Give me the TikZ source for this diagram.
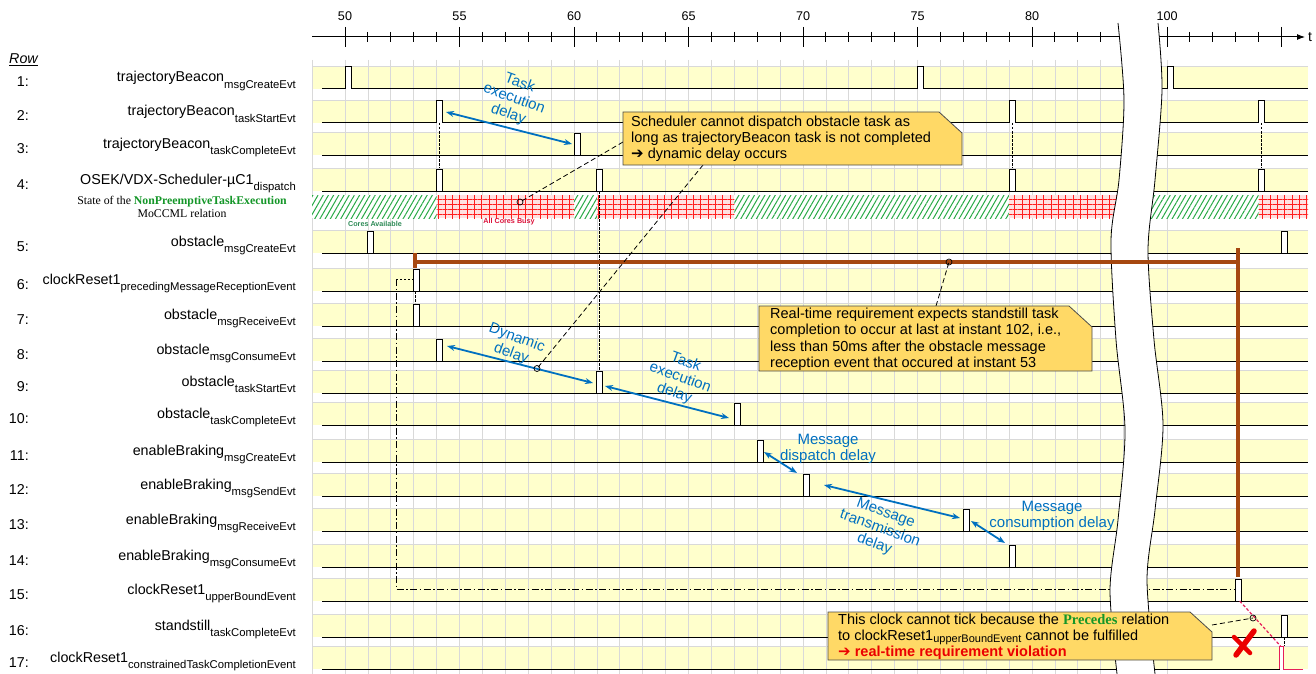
\documentclass[tikz,border=0pt]{standalone}
\usepackage{fontspec}
\setmainfont{Liberation Sans}
\newfontfamily\serifs{Liberation Serif}
\newfontfamily\dejavu{DejaVu Sans}
\usetikzlibrary{arrows.meta,patterns.meta}
\definecolor{band}{RGB}{255,255,204}
\definecolor{gridc}{RGB}{217,217,217}
\definecolor{bl}{RGB}{0,112,192}
\definecolor{brn}{RGB}{166,72,16}
\definecolor{note}{RGB}{255,217,102}
\definecolor{ngreen}{RGB}{20,150,40}
\definecolor{cgreen}{RGB}{46,139,87}
\definecolor{crim}{RGB}{220,20,60}
\definecolor{hatchg}{RGB}{40,170,70}
\definecolor{pinkbg}{RGB}{255,225,225}
\definecolor{gridred}{RGB}{255,30,30}
\definecolor{vred}{RGB}{235,0,0}
\definecolor{pinkred}{RGB}{230,30,90}
\newcommand\subt[1]{\raisebox{-6.5pt}{\fontsize{11.3}{12}\selectfont #1}}
\newcommand\pulse[3][]{%
  \fill[white] ({tx(#3)},#2) rectangle ({tx(#3)+6},#2-22);
  \draw[sig,#1] ({tx(#3)},#2) -- ({tx(#3)},#2-22) -- ({tx(#3)+6},#2-22) -- ({tx(#3)+6},#2);}
\begin{document}
\begin{tikzpicture}[x=1pt,y=-1pt,
  declare function={tx(\t)=(\t<90)*(345+(\t-50)*22.9)+(\t>=90)*(1167+(\t-100)*22.9);},
  sig/.style={line width=1pt,black},
  gridl/.style={draw=gridc,line width=0.8pt},
  rownum/.style={anchor=base east,inner sep=0,font=\fontsize{14.3}{16}\selectfont},
  rowlbl/.style={anchor=base east,inner sep=0,font=\fontsize{14.3}{16}\selectfont},
  ticklbl/.style={anchor=base,inner sep=0,font=\fontsize{12.6}{14}\selectfont},
  barrow/.style={draw=bl,line width=1.8pt,{Stealth[length=8pt,width=6pt]}-{Stealth[length=8pt,width=6pt]}},
  blabel/.style={text=bl,align=center,inner sep=0,font=\fontsize{15}{16.5}\selectfont},
  notebox/.style={fill=note,draw=black!70,line width=0.8pt},
  notetext/.style={anchor=north west,align=left,inner sep=0,font=\fontsize{14.5}{16}\selectfont},
  conn/.style={draw=black,line width=0.8pt,dash pattern=on 5pt off 3pt},
  vdash/.style={draw=black,line width=0.8pt,dash pattern=on 2.5pt off 1.5pt},
  ring/.style={draw=black,line width=0.7pt},
  dashdotl/.style={draw=black,line width=0.9pt,dash pattern=on 7pt off 2.5pt on 1.5pt off 2.5pt},
  brline/.style={draw=brn,line width=4pt},
  greenfill/.style={pattern={Lines[angle=60,distance=4.5pt,line width=1pt]},pattern color=hatchg},
  redh/.style={pattern={Lines[angle=0,distance=5pt,line width=0.9pt]},pattern color=gridred},
  redv/.style={pattern={Lines[angle=90,distance=7.3pt,line width=0.9pt]},pattern color=gridred}
]
\useasboundingbox (0,0) rectangle (1316,674);
\fill[white] (0,0) rectangle (1316,674);
% bands
\foreach \y in {89,123,155,191,253,291,326,361,393,425,462,496,531,567,601,637,669}
  {\fill[band] (312,\y-23) rectangle (1308,\y);}
% grid
\foreach \t in {50,...,84,100,...,106}
  {\draw[gridl] ({tx(\t)},60) -- ({tx(\t)},674);}
\draw[gridl] (312.5,60) -- (312.5,674);
\foreach \y in {89,123,155,191,253,291,326,361,393,425,462,496,531,567,601,637,669}
  {\draw[gridl] (312,\y-23) -- (1308,\y-23);}
% state row
\foreach \a/\b in {312/436.6,574/596.9,734.3/1009,1140/1258.6}
  {\fill[white] (\a,195) rectangle (\b,218);
   \fill[greenfill] (\a,195) rectangle (\b,218);}
\foreach \a/\b in {436.6/574,596.9/734.3,1009/1135,1258.6/1308}
  {\fill[pinkbg] (\a,195) rectangle (\b,218);
   \fill[redh] (\a,195) rectangle (\b,218);
   \fill[redv] (\a,195) rectangle (\b,218);}
\node[font=\bfseries\fontsize{7.2}{8}\selectfont,text=cgreen,inner sep=0] (cav) at (375,224) {Cores Available};
\node[font=\bfseries\fontsize{7.2}{8}\selectfont,text=crim,inner sep=0] (acb) at (509,222) {All Cores Busy};
% baselines
\foreach \y in {89,123,155,191,253,291,326,361,393,425,462,496,531,567,601,637}
  {\draw[sig] (322,\y) -- (1308,\y);}
\draw[sig] (322,669) -- ({tx(105)-2},669);
% pulses
\foreach \y/\t in {89/50,89/75,89/100,123/54,123/79,123/104,155/60,191/54,191/61,191/79,191/104,
  253/51,253/105,291/53,326/53,361/54,393/61,425/67,462/68,496/70,531/77,567/79,601/103,637/105}
  {\pulse{\y}{\t}}
\fill[white] ({tx(105)-2},669) rectangle ({tx(105)+2},646);
\draw[draw=pinkred,line width=1pt] ({tx(105)-2},669) -- ({tx(105)-2},646) -- ({tx(105)+2},646) -- ({tx(105)+2},669) -- (1303,669);
% dashed verticals
\draw[vdash] ({tx(54)+3},123) -- ({tx(54)+3},168);
\draw[vdash] ({tx(79)+3},123) -- ({tx(79)+3},168);
\draw[vdash] ({tx(104)+3},123) -- ({tx(104)+3},168);
\draw[vdash] ({tx(61)+2},191) -- ({tx(61)+2},371);
\draw[vdash] ({tx(53)+2},291) -- ({tx(53)+2},303);
\draw[vdash] ({tx(105)+3},637) -- ({tx(105)+3},646);
% dash-dot path
\coordinate (dd1) at (396,279);
\coordinate (dd2) at (396,589);
\coordinate (p6) at ({tx(53)},279);
\coordinate (p15) at ({tx(103)},589);
\draw[line width=0.9pt,dash pattern=on 2pt off 2pt] (dd1) -- (p6);
\draw[dashdotl] (dd1) -- (dd2) -- (p15);
% axis
\draw[line width=1pt] (312,37) -- (1296,37);
\draw[line width=1pt,-{Latex[length=8pt,width=6pt]}] (1290,37) -- (1305,37);
\node[font=\fontsize{14}{16}\selectfont,inner sep=0] (tlab) at (1310,37) {t};
\foreach \t in {50,55,...,80,100,105} {\draw[line width=1pt] ({tx(\t)},27) -- ({tx(\t)},47);}
\foreach \t in {51,52,53,54,56,57,58,59,61,62,63,64,66,67,68,69,71,72,73,74,76,77,78,79,81,82,83,101,102,103,104}
  {\draw[line width=0.9pt] ({tx(\t)},32) -- ({tx(\t)},42);}
\foreach \t in {50,55,...,80,100} {\node[ticklbl] at ({tx(\t)},21) {\t};}
% break
\fill[white] plot[smooth] coordinates {(1118,23) (1124,100) (1119,180) (1111,240) (1116,340) (1125,430) (1118,520) (1110,590) (1117,674)}
  -- plot[smooth] coordinates {(1155,674) (1147,580) (1155,510) (1163,425) (1154,340) (1148,250) (1155,180) (1162,90) (1158,23)} -- cycle;
\draw[line width=0.8pt] plot[smooth] coordinates {(1118,23) (1124,100) (1119,180) (1111,240) (1116,340) (1125,430) (1118,520) (1110,590) (1117,674)};
\draw[line width=0.8pt] plot[smooth] coordinates {(1158,23) (1162,90) (1155,180) (1148,250) (1154,340) (1163,425) (1155,510) (1147,580) (1155,674)};
% brown requirement lines
\coordinate (b1) at (415,253);
\coordinate (b2) at (415,268);
\coordinate (b3) at (413,262);
\coordinate (b4) at (1239,262);
\coordinate (b5) at (1237.5,248);
\coordinate (b6) at (1237.5,577);
\draw[brline] (b3) -- (b4);
\draw[brline] (b1) -- (b2);
\draw[brline] (b5) -- (b6);
% rings
\coordinate (r1) at (520,202);
\coordinate (r2) at (537,368.5);
\coordinate (r3) at (949,262);
\coordinate (r4) at (1253,618);
% red dashed
\coordinate (rd1) at ({tx(103)+4},601);
\coordinate (rd2) at ({tx(105)-1},646);
\draw[draw=pinkred,line width=1.2pt,dash pattern=on 3pt off 2pt] (rd1) -- (rd2);
% blue arrows
\coordinate (a1s) at (446,112); \coordinate (a1e) at (572,144);
\coordinate (a2s) at (447,346); \coordinate (a2e) at (593,383);
\coordinate (a3s) at (605,386); \coordinate (a3e) at (729,418);
\coordinate (a4s) at (764,452); \coordinate (a4e) at (797,473);
\coordinate (a5s) at (824,485); \coordinate (a5e) at (960,518);
\coordinate (a6s) at (971,521); \coordinate (a6e) at (1005,543);
\draw[barrow] (a1s) -- (a1e);
\draw[barrow] (a2s) -- (a2e);
\draw[barrow] (a3s) -- (a3e);
\draw[barrow] (a4s) -- (a4e);
\draw[barrow] (a5s) -- (a5e);
\draw[barrow] (a6s) -- (a6e);
\node[blabel,rotate=-20] (bl1) at (514,99) {Task\\execution\\delay};
\node[blabel,rotate=-20] (bl2) at (514,346) {Dynamic\\delay};
\node[blabel,rotate=-20] (bl3) at (680,378) {Task\\execution\\delay};
\node[blabel] (bl4) at (828,449) {Message\\dispatch delay};
\node[blabel,rotate=-20] (bl5) at (880,529) {Message\\transmission\\delay};
\node[blabel] (bl6) at (1052,516) {Message\\consumption delay};
% row labels
\node[anchor=base west,inner sep=0,font=\itshape\fontsize{14.3}{16}\selectfont] (rowh) at (9,64) {\underline{Row}};
\foreach \n/\y/\m/\s in {1/89/trajectoryBeacon/msgCreateEvt,2/123/trajectoryBeacon/taskStartEvt,
  3/155/trajectoryBeacon/taskCompleteEvt,5/253/obstacle/msgCreateEvt,
  6/291/clockReset1/precedingMessageReceptionEvent,7/326/obstacle/msgReceiveEvt,
  8/361/obstacle/msgConsumeEvt,9/393/obstacle/taskStartEvt,10/425/obstacle/taskCompleteEvt,
  11/462/enableBraking/msgCreateEvt,12/496/enableBraking/msgSendEvt,13/531/enableBraking/msgReceiveEvt,
  14/567/enableBraking/msgConsumeEvt,15/601/clockReset1/upperBoundEvent,16/637/standstill/taskCompleteEvt,
  17/669/clockReset1/constrainedTaskCompletionEvent}
  {\node[rownum] (num\n) at (29,\y-2) {\n:};
   \node[rowlbl] (lab\n) at (296,\y-7) {\m\subt{\s}};}
\node[rownum] (num4) at (29,189) {4:};
\node[rowlbl] (lab4) at (296,184) {OSEK/VDX-Scheduler-µC1\subt{dispatch}};
\node[anchor=base,inner sep=0,font=\serifs\fontsize{11.8}{13}\selectfont] (st1) at (182,204) {State of the {\bfseries\color{ngreen}NonPreemptiveTaskExecution}};
\node[anchor=base,inner sep=0,font=\serifs\fontsize{11.8}{13}\selectfont] (st2) at (182,217) {MoCCML relation};
% callout connectors
\coordinate (c1a) at (623,142);
\coordinate (c1b) at (703,165);
\coordinate (c2a) at (936,306);
\coordinate (c3a) at (1212,625);
\draw[conn] (c1a) -- (r1);
\draw[conn] (c1b) -- (r2);
\draw[conn] (c2a) -- (r3);
\draw[conn] (c3a) -- (r4);
\foreach \r in {r1,r2,r3,r4} {\draw[ring] (\r) circle (3);}
% callout 1
\filldraw[notebox] (623,112) -- (939,112) -- (962,133) -- (962,165) -- (623,165) -- cycle;
\node[notetext] (c1) at (631,115.5) {Scheduler cannot dispatch obstacle task as\\long as trajectoryBeacon task is not completed\\{\dejavu\fontsize{15}{16}\selectfont ➔} dynamic delay occurs};
% callout 2
\filldraw[notebox] (759,306) -- (1069,306) -- (1092,327) -- (1092,371) -- (759,371) -- cycle;
\node[notetext,font=\fontsize{14.5}{16.5}\selectfont] (c2) at (770,307.5) {Real-time requirement expects standstill task\\completion to occur at last at instant 102, i.e.,\\less than 50ms after the obstacle message\\reception event that occured at instant 53};
% callout 3
\filldraw[notebox] (828,612) -- (1190,612) -- (1212,632) -- (1212,660) -- (828,660) -- cycle;
\node[notetext,font=\fontsize{14.5}{16}\selectfont] (c3) at (838,613.5) {This clock cannot tick because the {\serifs\bfseries\color{ngreen}Precedes} relation\\to clockReset1{\raisebox{-2pt}{\fontsize{11}{12}\selectfont upperBoundEvent}} cannot be fulfilled\\{\color{vred}\bfseries{\dejavu\fontsize{15}{16}\selectfont ➔} real-time requirement violation}};
% red cross
\draw[draw=vred,line width=5.5pt,line cap=round] (1236,655) -- (1254,631);
\draw[draw=vred,line width=4.5pt,line cap=round] (1234,637) -- (1250,653);
\end{tikzpicture}
\end{document}
